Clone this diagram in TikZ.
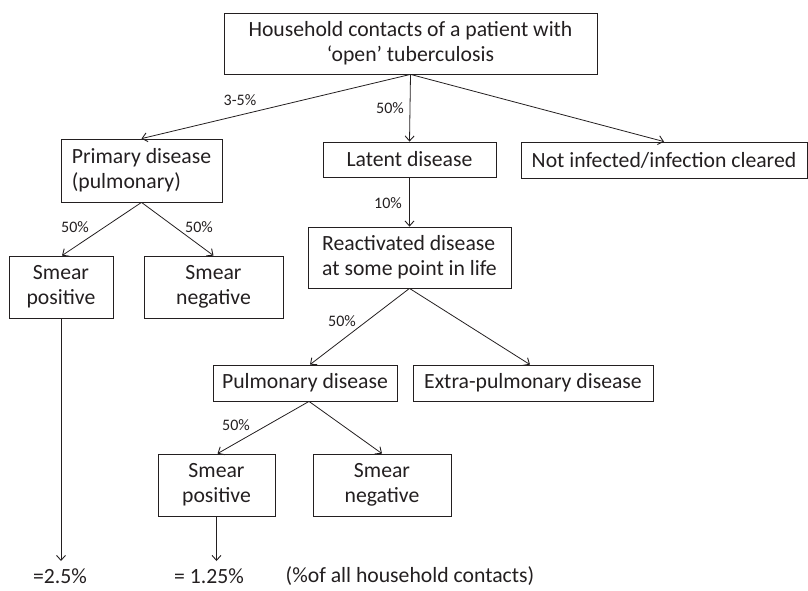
\documentclass[tikz,border=0pt]{standalone}
\usepackage{fontspec}
\setmainfont{Carlito}
\usetikzlibrary{arrows.meta}
\definecolor{ink}{HTML}{231F20}
\begin{document}
\begin{tikzpicture}[x=1pt,y=-1pt,
  box/.style={draw=ink,line width=0.8pt,text=ink,inner sep=0pt,font=\fontsize{21.7}{25}\selectfont},
  lbl/.style={text=ink,inner sep=0pt,font=\fontsize{16}{18}\selectfont},
  res/.style={text=ink,inner sep=0pt,font=\fontsize{21.7}{25}\selectfont},
  arr/.style={draw=ink,line width=0.8pt,-{Straight Barb[length=5pt,width=9pt,line width=0.9pt]}}]
\useasboundingbox (0,0) rectangle (808,590);
\node[box,minimum width=373,minimum height=61,align=center] (top) at (410.5,43.5) {Household contacts of a patient with\\‘open’ tuberculosis};
\node[box,minimum width=161,minimum height=63,align=left] (prim) at (141.5,170.5) {Primary disease\\(pulmonary)};
\node[box,minimum width=104,minimum height=62,align=center] (smp1) at (61,287) {Smear\\positive};
\node[box,minimum width=139,minimum height=62,align=center] (smn1) at (213.5,287) {Smear\\negative};
\node[box,minimum width=173,minimum height=35] (lat) at (409.5,159.5) {Latent disease};
\node[box,minimum width=286,minimum height=36] (notinf) at (664,160) {Not infected/infection cleared};
\node[box,minimum width=203,minimum height=61,align=left] (react) at (409.5,257.5) {Reactivated disease\\at some point in life};
\node[box,minimum width=184,minimum height=36] (pulm) at (305,383) {Pulmonary disease};
\node[box,minimum width=240,minimum height=36] (extra) at (533,383) {Extra-pulmonary disease};
\node[box,minimum width=117,minimum height=62,align=center] (smp2) at (216.5,485) {Smear\\positive};
\node[box,minimum width=138,minimum height=62,align=center] (smn2) at (382,485) {Smear\\negative};
\node[res] (r1) at (60,576) {=2.5\%};
\node[res] (r2) at (209,576) {= 1.25\%};
\node[res] (r3) at (410,576) {(\%of all household contacts)};
\coordinate (e1) at (61,561);
\coordinate (e2) at (216.5,561);
\draw[arr] (top.south) -- (prim.north);
\draw[arr] (top.south) -- (lat.north);
\draw[arr] (top.south) -- (notinf.north);
\draw[arr] (prim.south) -- ([xshift=1]smp1.north);
\draw[arr] (prim.south) -- (smn1.north);
\draw[arr] (lat.south) -- (react.north);
\draw[arr] (react.south) -- ([xshift=5]pulm.north);
\draw[arr] (react.south) -- ([xshift=-3]extra.north);
\draw[arr] ([xshift=4]pulm.south) -- ([xshift=1]smp2.north);
\draw[arr] ([xshift=4]pulm.south) -- (smn2.north);
\draw[arr] (smp1.south) -- (e1);
\draw[arr] (smp2.south) -- (e2);
\node[lbl] (l1) at (240,100) {3-5\%};
\node[lbl] (l2) at (390,108) {50\%};
\node[lbl] (l3) at (75,227) {50\%};
\node[lbl] (l4) at (199,227) {50\%};
\node[lbl] (l5) at (388,203) {10\%};
\node[lbl] (l6) at (342,321) {50\%};
\node[lbl] (l7) at (236,425) {50\%};
\end{tikzpicture}
\end{document}
